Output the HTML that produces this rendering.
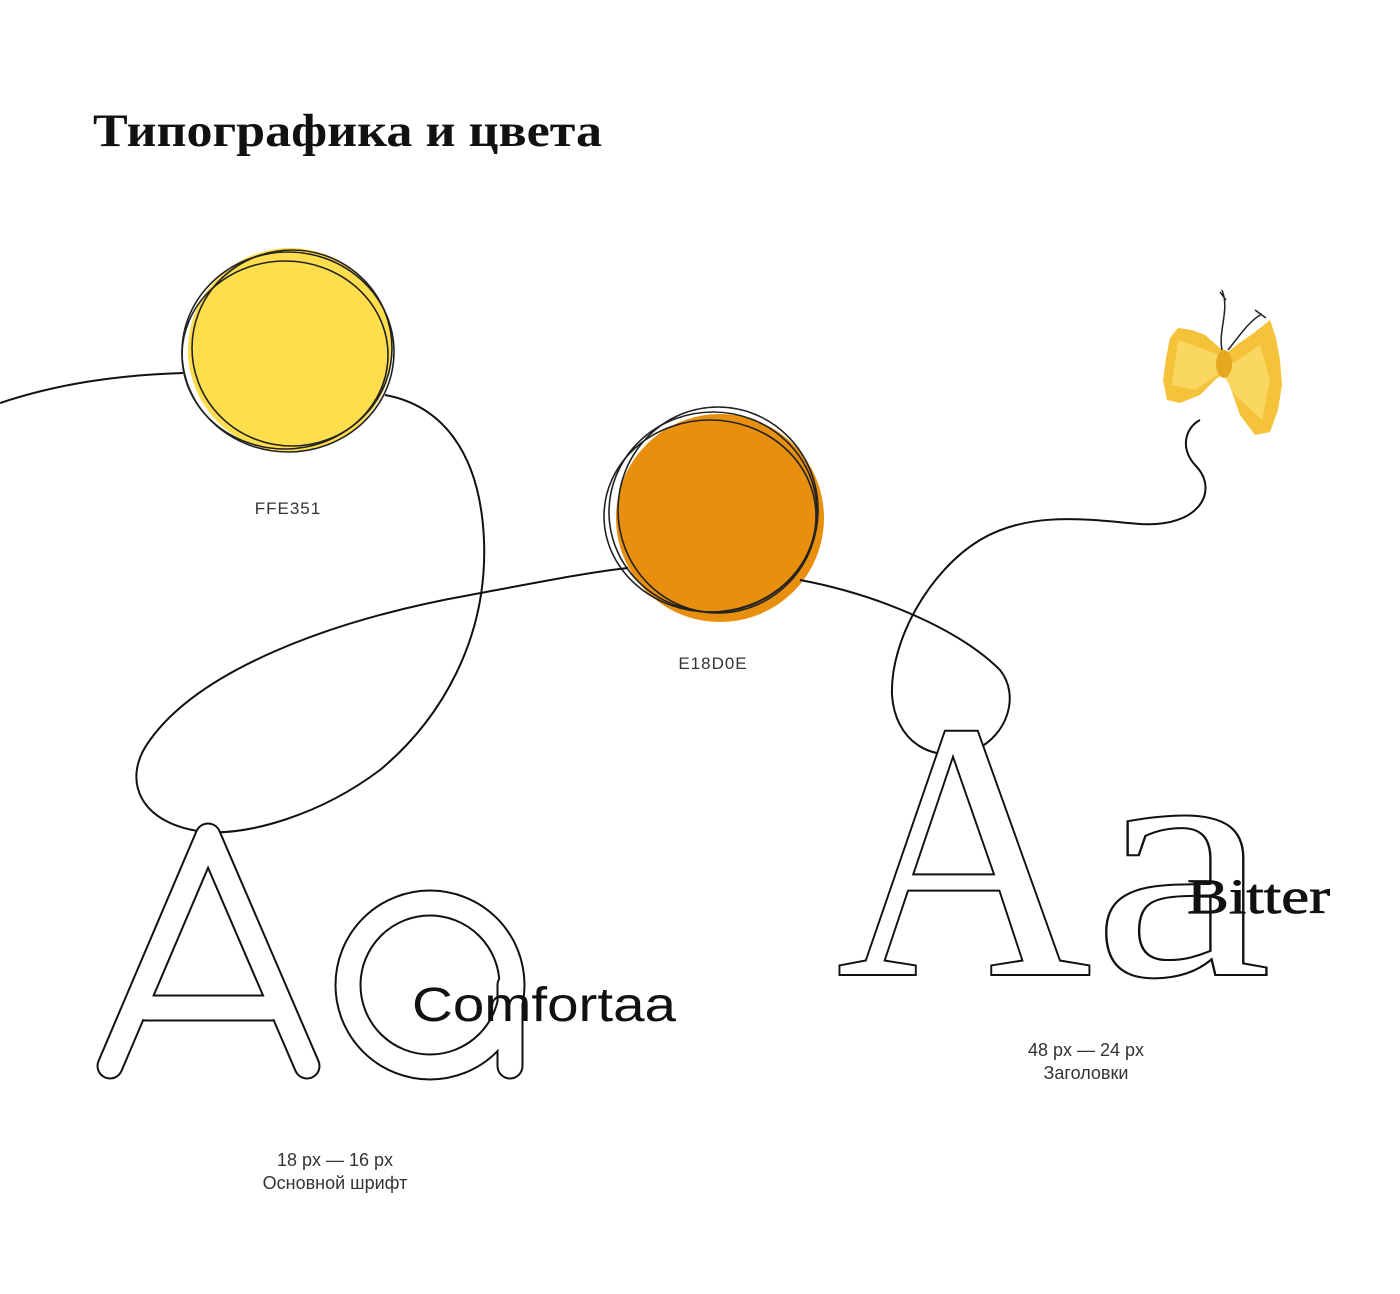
<!DOCTYPE html>
<html><head><meta charset="utf-8"><style>
html,body{margin:0;padding:0;background:#fff;}
svg{display:block}
</style></head><body>
<svg width="1400" height="1294" viewBox="0 0 1400 1294" xmlns="http://www.w3.org/2000/svg">
<rect width="1400" height="1294" fill="#fff"/>
<text x="93" y="146" font-family="Liberation Serif, serif" font-weight="bold" font-size="47" fill="#111" textLength="509" lengthAdjust="spacingAndGlyphs">Типографика и цвета</text>

<!-- yellow circle -->
<circle cx="290" cy="350" r="102" fill="#FFDE4D"/>
<g fill="none" stroke="#222" stroke-width="1.6">
<ellipse cx="288" cy="352" rx="106" ry="100"/>
<ellipse cx="292" cy="348" rx="100" ry="98"/>
<ellipse cx="285" cy="355" rx="103" ry="94"/>
</g>
<text x="288" y="514" text-anchor="middle" font-family="Liberation Sans, sans-serif" font-size="17" fill="#333" letter-spacing="1">FFE351</text>

<!-- orange circle -->
<circle cx="720" cy="518" r="104" fill="#E8900E"/>
<g fill="none" stroke="#222" stroke-width="1.6">
<ellipse cx="713" cy="512" rx="104" ry="100"/>
<ellipse cx="718" cy="510" rx="100" ry="103"/>
<ellipse cx="710" cy="516" rx="106" ry="96"/>
</g>
<text x="713" y="669" text-anchor="middle" font-family="Liberation Sans, sans-serif" font-size="17" fill="#333" letter-spacing="1">E18D0E</text>

<!-- lines -->
<g fill="none" stroke="#111" stroke-width="2">
<path d="M0,403 C60,383 120,375 183,373"/>
<path d="M385,395 C440,405 480,450 484,540 C488,640 440,720 380,770 C320,815 250,835 205,832 C140,825 120,780 150,740 C200,670 330,620 470,595 C540,582 590,572 628,568"/>
<path d="M800,580 C880,595 960,630 1000,670 C1020,695 1008,735 975,750 C930,765 895,740 892,695 C890,640 930,570 980,540 C1030,510 1090,520 1140,524 C1200,528 1220,490 1195,465 C1180,448 1185,428 1200,420"/>
</g>

<!-- butterfly -->
<g>
<path d="M1170,338 L1178,328 L1192,330 L1205,335 L1220,348 L1228,352 L1238,344 L1255,332 L1270,320 L1276,338 L1280,360 L1282,385 L1278,410 L1270,432 L1255,435 L1240,415 L1225,372 L1215,380 L1200,395 L1180,403 L1167,400 L1163,380 L1166,358 Z" fill="#F4C33A"/>
<path d="M1178,340 L1220,355 L1230,365 L1260,345 L1270,380 L1262,420 L1235,395 L1222,372 L1195,390 L1172,385 Z" fill="#FAD760"/>
<ellipse cx="1224" cy="364" rx="8" ry="14" fill="#E6A820"/>
<g fill="none" stroke="#222" stroke-width="1.5">
<path d="M1222,350 C1218,330 1230,310 1222,290 M1220,292 L1226,300"/>
<path d="M1228,350 C1240,335 1250,320 1262,314 M1255,310 L1266,318"/>
</g>
</g>

<!-- Comfortaa Aa (outlined strokes) -->
<g fill="none" stroke-linecap="round" stroke-linejoin="round">
<g stroke="#111" stroke-width="27">
<path d="M110,1066 L208,836 L307,1066 M146,1008 L271,1008"/>
<circle cx="430" cy="985" r="82"/>
<path d="M510,985 L510,1066"/>
</g>
<g stroke="#fff" stroke-width="23">
<path d="M110,1066 L208,836 L307,1066 M146,1008 L271,1008"/>
<circle cx="430" cy="985" r="82"/>
<path d="M510,985 L510,1066"/>
</g>
</g>
<text x="412" y="1021" font-family="Liberation Sans, sans-serif" font-size="48" fill="#111" textLength="264" lengthAdjust="spacingAndGlyphs">Comfortaa</text>
<g font-family="Liberation Sans, sans-serif" font-size="18" fill="#333" text-anchor="middle">
<text x="335" y="1166">18 px — 16 px</text>
<text x="335" y="1189">Основной шрифт</text>
</g>

<!-- Bitter Aa -->
<g font-family="Liberation Serif, serif" fill="#fff" stroke="#111" stroke-width="2" stroke-linejoin="miter">
<text x="836" y="975" font-size="370" textLength="256" lengthAdjust="spacingAndGlyphs">A</text>
<text x="1092" y="975" font-size="340" textLength="180" lengthAdjust="spacingAndGlyphs">a</text>
</g>
<text x="1187" y="913" font-family="Liberation Serif, serif" font-size="50" fill="#111" stroke="#111" stroke-width="0.8" textLength="143" lengthAdjust="spacingAndGlyphs">Bitter</text>
<g font-family="Liberation Sans, sans-serif" font-size="18" fill="#333" text-anchor="middle">
<text x="1086" y="1056">48 px — 24 px</text>
<text x="1086" y="1079">Заголовки</text>
</g>
</svg>
</body></html>
